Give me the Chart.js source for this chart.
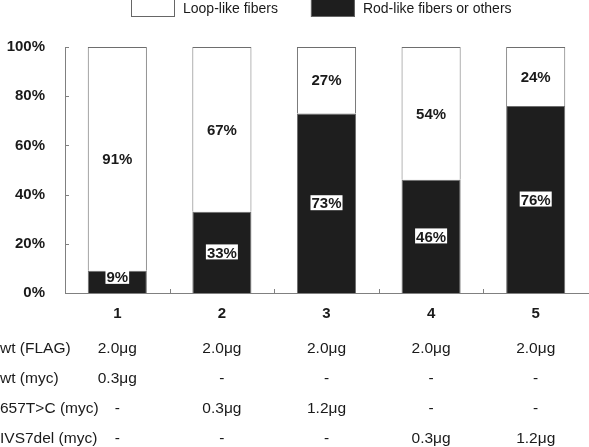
<!DOCTYPE html>
<html>
<head>
<meta charset="utf-8">
<script src="https://cdn.jsdelivr.net/npm/chart.js@4/dist/chart.umd.min.js"></script>
<style>
  html, body { margin: 0; padding: 0; background: #fff; }
  canvas { display: block; }
</style>
</head>
<body>
<canvas id="c" width="589" height="447"></canvas>
<script>
// ---- data ----
const categories = ['1', '2', '3', '4', '5'];
const loopLike = [91, 67, 27, 54, 24];
const rodLike = [9, 33, 73, 46, 76];
const seriesNames = ['Loop-like fibers', 'Rod-like fibers or others'];
const yTickValues = [0, 20, 40, 60, 80, 100];
const rowLabels = ['wt (FLAG)', 'wt (myc)', '657T>C (myc)', 'IVS7del (myc)'];
const wtFlag = ['2.0μg', '2.0μg', '2.0μg', '2.0μg', '2.0μg'];
const wtMyc = ['0.3μg', '-', '-', '-', '-'];
const t657Myc = ['-', '0.3μg', '1.2μg', '-', '-'];
const ivs7Myc = ['-', '-', '-', '0.3μg', '1.2μg'];
const tableRows = [wtFlag, wtMyc, t657Myc, ivs7Myc];

const TEXT = '#1a1a1a';
const AXIS = '#808080';
const FONT = '"Liberation Sans", Arial, Helvetica, sans-serif';

const overlay = {
  id: 'overlay',
  afterDatasetsDraw(chart) {
    const ctx = chart.ctx;
    ctx.save();
    ctx.font = 'bold 15px ' + FONT;
    ctx.textAlign = 'center';
    ctx.textBaseline = 'middle';
    chart.data.datasets.forEach((ds, di) => {
      const meta = chart.getDatasetMeta(di);
      meta.data.forEach((el, i) => {
        const top = Math.min(el.y, el.base), bot = Math.max(el.y, el.base);
        let cy = (top + bot) / 2;
        if (bot - top < 30) cy = Math.min(cy, top + 6);
        const txt = ds.data[i] + '%';
        if (ds.labelBox) {
          const w = ctx.measureText(txt).width + 2;
          ctx.fillStyle = '#fff';
          ctx.fillRect(el.x - w / 2, cy - 8, w, 15);
        }
        ctx.fillStyle = TEXT;
        ctx.fillText(txt, el.x, cy + 1);
      });
    });
    ctx.restore();
  },
  afterDraw(chart) {
    const ctx = chart.ctx;
    const xs = chart.scales.x, ys = chart.scales.y;
    const area = chart.chartArea;
    ctx.save();
    // inward tick marks
    ctx.strokeStyle = AXIS;
    ctx.lineWidth = 1;
    ctx.beginPath();
    yTickValues.forEach(v => {
      const y = Math.round(ys.getPixelForValue(v)) + 0.5;
      ctx.moveTo(area.left, y); ctx.lineTo(area.left + 4, y);
    });
    for (let i = 0; i < categories.length - 1; i++) {
      const x = Math.round((xs.getPixelForValue(i) + xs.getPixelForValue(i + 1)) / 2) + 0.5;
      ctx.moveTo(x, area.bottom); ctx.lineTo(x, area.bottom - 4);
    }
    ctx.stroke();

    // table below the axis
    ctx.font = '15.5px ' + FONT;
    ctx.fillStyle = TEXT;
    ctx.textBaseline = 'middle';
    rowLabels.forEach((lab, r) => {
      const y = area.bottom + 56 + r * 30;
      ctx.textAlign = 'left';
      ctx.fillText(lab, 0, y);
      ctx.textAlign = 'center';
      tableRows[r].forEach((v, i) => ctx.fillText(v, xs.getPixelForValue(i), y));
    });

    // legend
    ctx.font = '14px ' + FONT;
    ctx.textAlign = 'left';
    const items = [
      { name: seriesNames[0], fill: '#ffffff' },
      { name: seriesNames[1], fill: '#1e1e1e' }
    ];
    let x = 131;
    items.forEach(it => {
      ctx.fillStyle = it.fill;
      ctx.fillRect(x, 0, 44, 17);
      ctx.strokeStyle = '#666';
      ctx.strokeRect(x + 0.5, -0.5, 43, 17);
      ctx.fillStyle = TEXT;
      ctx.fillText(it.name, x + 52, 9);
      x += 52 + ctx.measureText(it.name).width + 33;
    });
    ctx.restore();
  }
};

new Chart(document.getElementById('c'), {
  type: 'bar',
  data: {
    labels: categories,
    datasets: [
      {
        label: seriesNames[1], data: rodLike, labelBox: true,
        backgroundColor: '#1e1e1e', borderColor: '#6e6e6e', borderWidth: 1,
        categoryPercentage: 1, barPercentage: 0.565
      },
      {
        label: seriesNames[0], data: loopLike, labelBox: false,
        backgroundColor: '#ffffff', borderColor: '#6e6e6e', borderWidth: 1,
        categoryPercentage: 1, barPercentage: 0.565
      }
    ]
  },
  options: {
    responsive: false,
    devicePixelRatio: 1,
    animation: false,
    layout: { padding: { top: 47, right: 1, left: 0, bottom: 0 } },
    plugins: { legend: { display: false }, tooltip: { enabled: false } },
    scales: {
      x: {
        stacked: true,
        grid: { display: false },
        border: { display: true, color: AXIS, width: 1 },
        ticks: { color: TEXT, font: { family: FONT, size: 15, weight: 'bold' }, padding: 4 },
        afterFit: s => { s.height = 154; }
      },
      y: {
        stacked: true, min: 0, max: 100,
        grid: { display: false },
        border: { display: true, color: AXIS, width: 1 },
        ticks: {
          stepSize: 20, color: TEXT, padding: 12,
          font: { family: FONT, size: 15, weight: 'bold' },
          callback: v => v + '%'
        },
        afterFit: s => { s.width = 65; }
      }
    }
  },
  plugins: [overlay]
});
</script>
</body>
</html>
